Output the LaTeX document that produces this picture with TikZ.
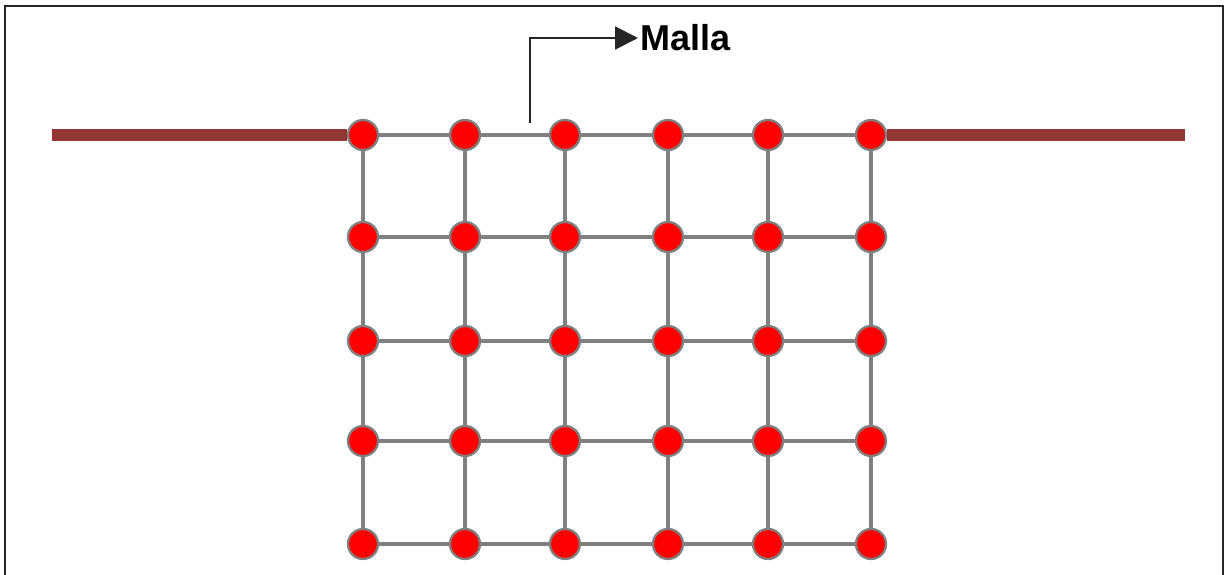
\documentclass[tikz,border=0pt]{standalone}
\usepackage{fontspec}
\setmainfont{Liberation Sans}
\usepackage{tikz}
\usetikzlibrary{arrows.meta,positioning}

\definecolor{barra}{RGB}{148,54,52}
\definecolor{nodo}{RGB}{255,0,0}

\begin{document}
\begin{tikzpicture}[x=0.02cm,y=-0.02cm,
  dot/.style={circle,fill=nodo,draw=gray,line width=1.3pt,minimum size=0.6cm,inner sep=0pt},
  mesh/.style={draw=gray,line width=2.8pt},
  bus/.style={draw=barra,line width=6.5pt},
  pointer/.style={-{Triangle[length=13pt,width=13pt]},line width=1.2pt,black!85},
  >=Triangle]

\useasboundingbox (0,0) rectangle (1225,575);
\draw[line width=1.2pt,black!85] (5,575) -- (5,6) -- (1223,6) -- (1223,575);

% nodos de la malla
\foreach \x [count=\i] in {363,465,565,668,768,871}
  \foreach \y [count=\j] in {135,237,341,441,544}
    \node[dot] (n\i\j) at (\x,\y) {};

\foreach \i in {1,...,6}
  \foreach \j/\k in {1/2,2/3,3/4,4/5}
    \draw[mesh] (n\i\j) -- (n\i\k);

\foreach \j in {1,...,5}
  \foreach \i/\k in {1/2,2/3,3/4,4/5,5/6}
    \draw[mesh] (n\i\j) -- (n\k\j);

% barra
\coordinate (busL) at (52,135);
\coordinate (busR) at (1185,135);
\draw[bus] (busL) -- (n11);
\draw[bus] (n61) -- (busR);

% etiqueta
\node[anchor=west,inner sep=1pt,font=\fontsize{20.5}{24}\selectfont\bfseries] (malla) at (638,38) {Malla};
\coordinate (flecha) at (530,123);
\draw[pointer] (flecha) |- (malla.west);
\end{tikzpicture}
\end{document}
